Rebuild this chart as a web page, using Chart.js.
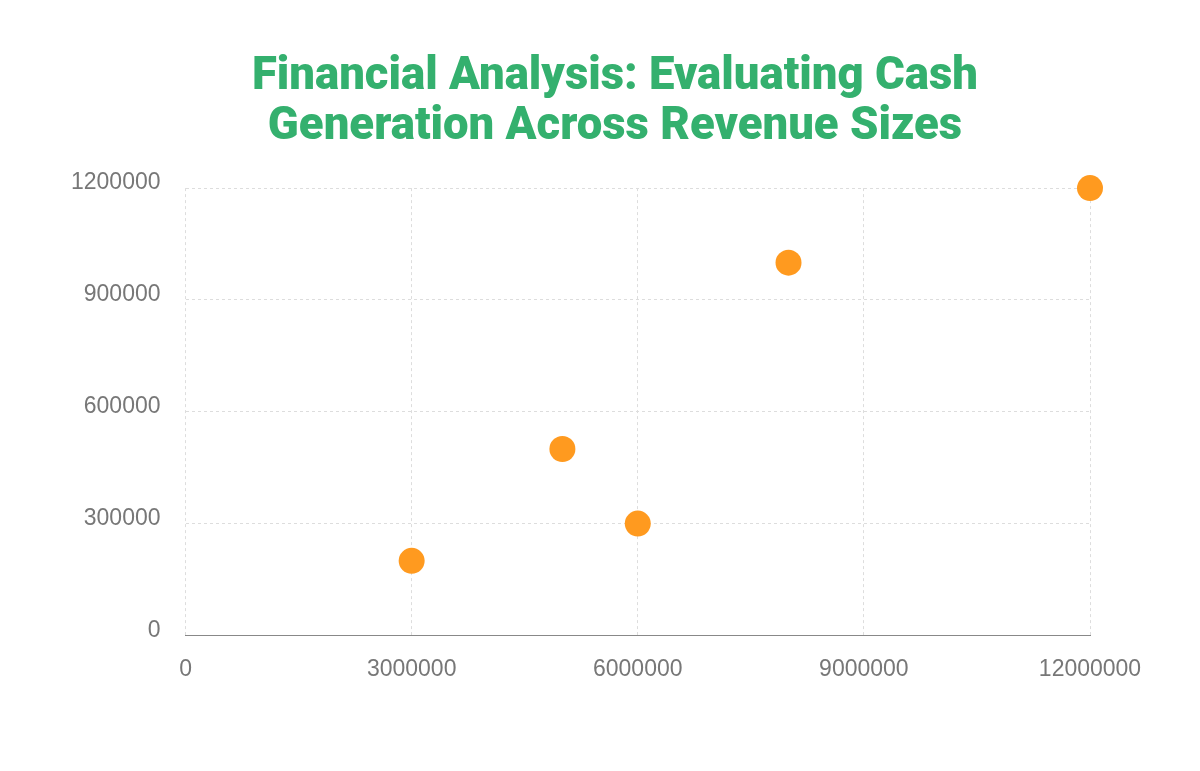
<!DOCTYPE html>
<html>
<head>
<meta charset="utf-8">
<script src="https://cdn.jsdelivr.net/npm/chart.js@4.4.1/dist/chart.umd.min.js"></script>
<style>
html,body{margin:0;padding:0;background:#fff;}
#wrap{width:1200px;height:771px;}
</style>
</head>
<body>
<div id="wrap"><canvas id="c" width="1200" height="771"></canvas></div>
<script>
const titleLines = ["Financial Analysis: Evaluating Cash", "Generation Across Revenue Sizes"];
const revenue = [3000000, 5000000, 6000000, 8000000, 12000000];
const cashFlow = [200000, 500000, 300000, 1000000, 1200000];
const xTicks = [0, 3000000, 6000000, 9000000, 12000000];
const yTicks = [0, 300000, 600000, 900000, 1200000];

const points = revenue.map((r, i) => ({x: r, y: cashFlow[i]}));

new Chart(document.getElementById('c'), {
  type: 'scatter',
  data: {
    datasets: [{
      label: 'Cash Generation',
      data: points,
      backgroundColor: '#FF9A1F',
      borderColor: '#FF9A1F',
      borderWidth: 0,
      pointRadius: 13,
      pointHoverRadius: 13,
      clip: false
    }]
  },
  options: {
    responsive: false,
    animation: false,
    layout: {padding: {left: 46, right: 16, top: 53, bottom: 68}},
    plugins: {
      legend: {display: false},
      tooltip: {enabled: false},
      title: {
        display: true,
        text: titleLines,
        color: '#34B06E',
        font: {family: 'Roboto', size: 45.5, weight: 900, lineHeight: 1.1},
        padding: {top: 0, bottom: 35}
      }
    },
    scales: {
      x: {
        type: 'linear',
        min: xTicks[0],
        max: xTicks[xTicks.length - 1],
        afterBuildTicks: (s) => { s.ticks = xTicks.map(v => ({value: v})); },
        afterFit: (s) => { s.paddingRight = 110; },
        ticks: {color: '#777', font: {family: 'Liberation Sans', size: 23}, padding: 20, maxRotation: 0,
                callback: (v) => String(v)},
        grid: {color: '#DDDDDD', lineWidth: 1, drawTicks: false},
        border: {display: true, color: '#888', width: 1, dash: [3, 3]}
      },
      y: {
        type: 'linear',
        min: yTicks[0],
        max: yTicks[yTicks.length - 1],
        afterBuildTicks: (s) => { s.ticks = yTicks.map(v => ({value: v})); },
        ticks: {color: '#777', font: {family: 'Liberation Sans', size: 23}, padding: 25, labelOffset: -5,
                callback: (v) => String(v)},
        grid: {color: '#DDDDDD', lineWidth: 1, drawTicks: false},
        border: {display: false, dash: [3, 3]}
      }
    }
  }
});
</script>
</body>
</html>
